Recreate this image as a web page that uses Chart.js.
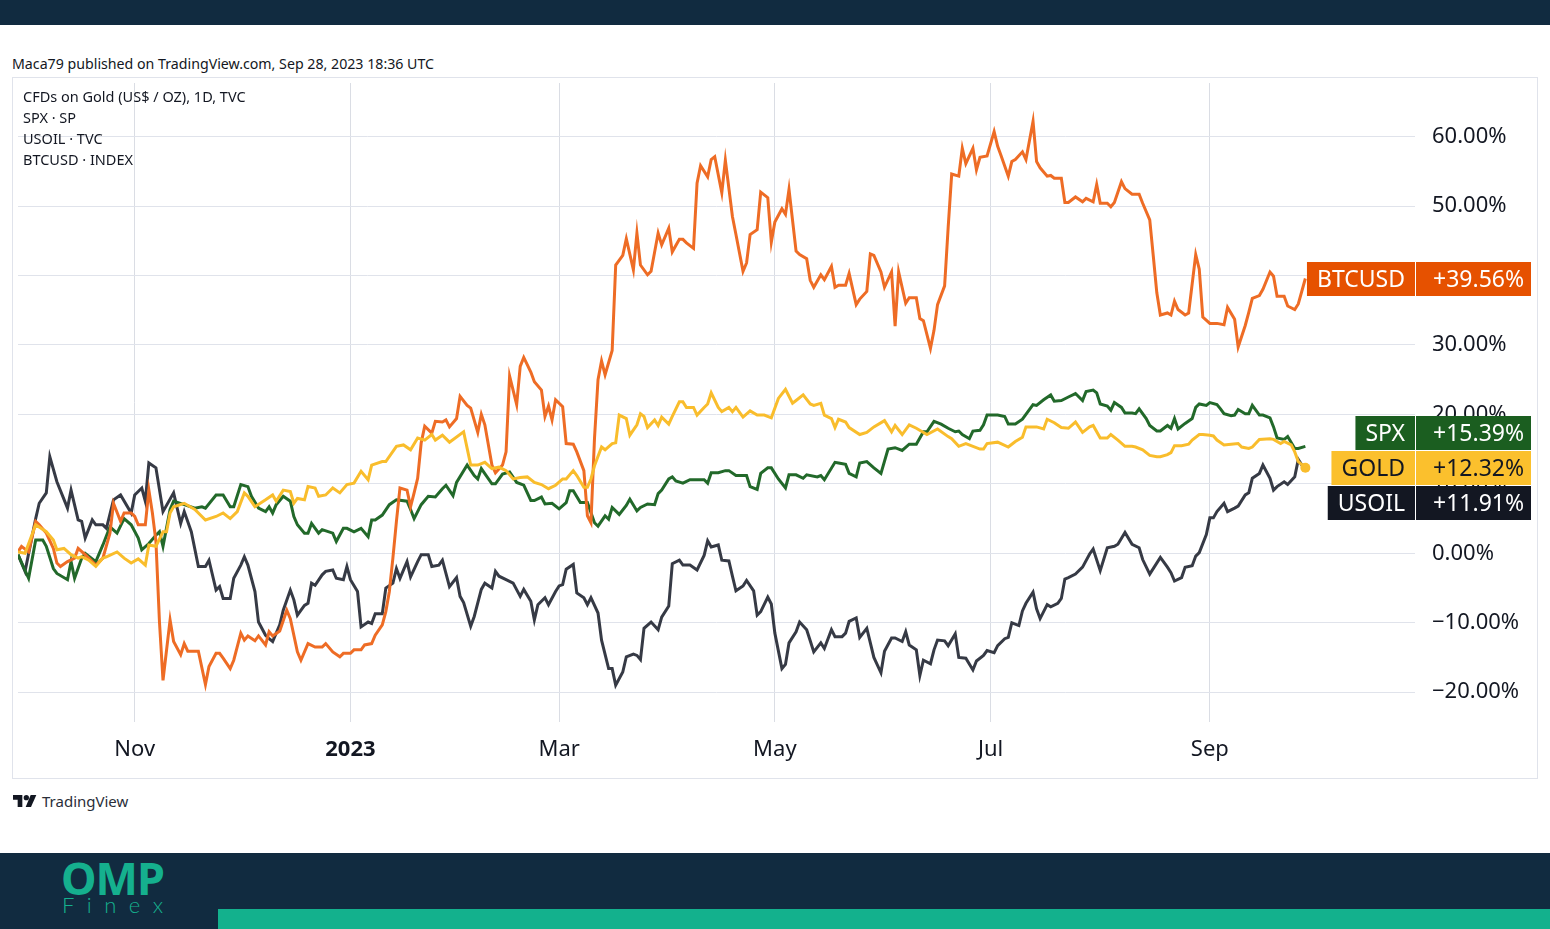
<!DOCTYPE html>
<html>
<head>
<meta charset="utf-8">
<title>Gold vs SPX vs USOIL vs BTCUSD – TradingView compare</title>
<script src="https://cdn.jsdelivr.net/npm/chart.js@4.4.0/dist/chart.umd.min.js"></script>
<style>
  html, body { margin: 0; padding: 0; background: #fff; }
  body {
    width: 1550px; height: 929px; position: relative; overflow: hidden;
    font-family: "Noto Sans", "DejaVu Sans", sans-serif; color: #131722;
  }
  .topbar   { position: absolute; left: 0; top: 0; width: 1550px; height: 25px; background: #112b40; }
  .published{ position: absolute; left: 12px; top: 54px; font-size: 14.2px; line-height: 20px; white-space: nowrap; }
  .frame    { position: absolute; left: 12px; top: 77px; width: 1524px; height: 700px; border: 1px solid #e0e3eb; }
  #wrap     { position: absolute; left: 13px; top: 78px; width: 1524px; height: 700px; }
  .legend   { position: absolute; left: 23px; top: 86px; font-size: 14.5px; line-height: 21px; white-space: nowrap; }
  .tv       { position: absolute; left: 13px; top: 792px; height: 18px; display: flex; align-items: center; gap: 5px;
              font-size: 15px; color: #2a2e39; }
  .footer   { position: absolute; left: 0; top: 853px; width: 1550px; height: 76px; background: #112b40; }
  .omp      { position: absolute; left: 61px; top: 855px; font-size: 45px; line-height: 45px; font-weight: 700;
              color: #15b08e; letter-spacing: -1px; }
  .finex    { position: absolute; left: 62px; top: 894px; font-family: Lato, "Noto Sans", sans-serif; font-size: 22px;
              line-height: 22px; font-weight: 300; color: #15b08e; letter-spacing: 12.5px; }
  .tealbar  { position: absolute; left: 218px; top: 909px; width: 1332px; height: 20px; background: #13b18d; }
</style>
</head>
<body>
<div class="topbar"></div>
<div class="published">Maca79 published on TradingView.com, Sep 28, 2023 18:36 UTC</div>
<div class="frame"></div>
<div id="wrap"><canvas id="cmp" width="1524" height="700"></canvas></div>
<div class="legend">
  <div>CFDs on Gold (US$ / OZ), 1D, TVC</div>
  <div>SPX · SP</div>
  <div>USOIL · TVC</div>
  <div>BTCUSD · INDEX</div>
</div>
<div class="tv">
  <svg width="24" height="12" viewBox="0 0 36 18"><path d="M14 18H7V7H0V0h14z" fill="#131722"/><circle cx="20" cy="4" r="4" fill="#131722"/><path d="M27 18h-8L26.5 0h8.5z" fill="#131722"/></svg>
  <span>TradingView</span>
</div>
<div class="footer"></div>
<div class="omp">OMP</div>
<div class="finex">Finex</div>
<div class="tealbar"></div>

<script>
'use strict';

/* ── Data: [day since 29 Sep 2022, % change] ────────────────────────────── */
const gold = [
  [0, 0.2], [2, 0.0], [5, 4.1], [8, 3.1], [10, 1.9], [11, 0.5], [13, 0.7], [15, -0.2], [17, -0.7], [18, -0.5],
  [20, -1.0], [22, -1.9], [24, -0.7], [25, -0.5], [28, 0.2], [30, -0.7], [32, -1.4], [34, -0.8], [36, -1.7], [37, 1.2],
  [39, 1.0], [41, 3.1], [42, 3.1], [43, 5.8], [44, 6.7], [47, 7.2], [50, 6.3], [53, 4.8], [56, 5.3], [58, 5.8],
  [60, 5.0], [62, 6.0], [64, 8.7], [65, 8.2], [67, 6.7], [70, 7.7], [72, 8.4], [73, 7.5], [75, 9.1], [77, 8.9],
  [78, 7.2], [79, 7.9], [81, 7.7], [82, 9.6], [84, 9.4], [85, 8.2], [87, 8.4], [89, 9.4], [91, 8.7], [93, 9.9],
  [95, 10.1], [97, 11.8], [99, 10.6], [100, 12.7], [103, 13.2], [104, 13.2], [107, 15.4], [109, 15.6], [111, 14.9], [113, 16.6],
  [115, 16.3], [117, 17.1], [118, 16.3], [120, 17.0], [122, 16.0], [126, 17.5], [127, 15.1], [128, 12.7], [130, 12.7], [132, 13.1],
  [134, 12.2], [136, 12.4], [138, 11.9], [140, 10.7], [142, 10.9], [144, 11.0], [146, 10.2], [148, 9.9], [150, 9.3], [152, 9.8],
  [154, 10.7], [155, 10.7], [157, 11.9], [158, 11.2], [160, 9.5], [161, 9.5], [162, 10.7], [163, 12.6], [165, 15.3], [166, 14.9],
  [168, 15.8], [169, 15.9], [170, 19.9], [172, 19.4], [173, 17.0], [175, 18.5], [176, 20.1], [177, 19.7], [178, 18.1], [180, 19.2],
  [181, 18.4], [182, 19.6], [184, 18.6], [185, 19.7], [187, 21.8], [188, 21.8], [189, 21.0], [191, 21.0], [192, 19.9], [194, 21.0],
  [195, 21.5], [196, 23.1], [198, 21.0], [199, 20.4], [201, 21.0], [202, 20.4], [203, 21.0], [205, 19.6], [207, 20.5], [209, 19.9],
  [211, 19.9], [213, 19.5], [215, 22.3], [217, 23.6], [219, 21.6], [220, 22.0], [222, 22.8], [224, 21.5], [225, 21.3], [227, 21.6],
  [228, 19.9], [230, 19.4], [231, 18.1], [232, 19.3], [234, 18.9], [235, 18.1], [238, 17.1], [240, 17.4], [242, 18.2], [245, 19.1],
  [247, 17.5], [248, 18.4], [250, 17.1], [252, 18.5], [254, 18.0], [257, 17.1], [260, 17.9], [263, 16.8], [264, 16.5], [266, 15.4],
  [268, 15.8], [272, 15.0], [273, 15.0], [274, 15.8], [277, 16.0], [280, 15.3], [282, 16.1], [284, 16.7], [285, 18.2], [288, 18.2],
  [290, 17.9], [291, 19.3], [293, 18.8], [295, 18.1], [297, 18.0], [299, 18.9], [301, 17.4], [303, 18.2], [304, 18.4], [306, 16.6],
  [308, 16.6], [309, 17.1], [311, 16.3], [313, 15.4], [315, 15.4], [316, 15.3], [318, 14.9], [320, 14.1], [322, 13.9], [323, 13.9],
  [325, 14.2], [326, 14.5], [327, 15.5], [329, 15.5], [331, 15.7], [332, 16.3], [334, 17.1], [335, 17.1], [337, 17.0], [338, 16.9],
  [339, 16.3], [341, 15.6], [343, 15.7], [345, 15.8], [346, 15.3], [348, 15.1], [349, 15.3], [351, 16.4], [354, 16.5], [355, 16.4],
  [357, 15.8], [358, 16.1], [360, 15.6], [361, 14.6], [362, 13.2], [364, 12.32]
];

const spx = [
  [0, -0.2], [3, -3.6], [5, 1.9], [7, 1.9], [8, 1.0], [10, -2.2], [11, -2.9], [14, -3.8], [15, -1.2], [16, -3.6],
  [18, -0.7], [19, 0.0], [22, -1.2], [24, 1.2], [26, 3.8], [28, 2.9], [30, 5.0], [32, 4.1], [34, 2.2], [35, 0.5],
  [37, 1.4], [39, 2.6], [40, 3.1], [41, 1.0], [43, 6.3], [44, 7.5], [47, 7.0], [50, 6.5], [52, 6.7], [53, 6.5],
  [56, 8.4], [58, 8.4], [60, 6.7], [61, 6.7], [63, 9.9], [65, 9.6], [66, 8.2], [68, 6.5], [70, 6.0], [71, 6.7],
  [72, 5.8], [73, 7.0], [75, 8.2], [77, 7.5], [78, 5.3], [79, 4.1], [81, 2.9], [82, 2.9], [83, 4.3], [85, 2.9],
  [86, 3.4], [89, 2.9], [90, 1.7], [92, 3.6], [93, 3.6], [95, 3.1], [97, 3.6], [99, 2.4], [100, 4.8], [101, 4.8],
  [103, 5.5], [105, 7.0], [107, 7.7], [110, 7.5], [111, 6.3], [112, 5.0], [114, 7.0], [116, 8.2], [118, 8.1], [120, 9.3],
  [121, 9.8], [123, 8.3], [124, 10.2], [127, 12.7], [129, 11.2], [130, 10.7], [131, 12.2], [134, 10.0], [135, 10.0], [137, 11.4],
  [139, 11.7], [141, 10.2], [143, 9.8], [145, 7.6], [146, 7.6], [148, 8.1], [149, 7.1], [151, 7.2], [153, 6.4], [155, 7.3],
  [156, 9.0], [157, 9.0], [159, 7.3], [161, 7.3], [163, 4.4], [164, 3.9], [166, 5.4], [167, 4.9], [168, 6.6], [170, 5.6],
  [172, 6.9], [173, 7.8], [175, 6.1], [176, 6.6], [178, 7.1], [180, 7.0], [181, 8.6], [182, 9.1], [184, 10.7], [185, 11.0],
  [186, 10.4], [188, 10.1], [190, 10.6], [194, 10.6], [195, 10.1], [196, 11.6], [198, 11.6], [200, 11.9], [201, 11.9], [203, 11.2],
  [206, 11.2], [207, 9.6], [209, 9.2], [210, 11.5], [212, 12.3], [213, 12.3], [215, 10.7], [217, 9.4], [218, 11.3], [220, 11.3],
  [222, 10.8], [223, 11.3], [226, 11.0], [227, 11.2], [228, 10.6], [231, 13.1], [232, 13.0], [234, 12.8], [235, 11.5], [237, 11.0],
  [238, 13.0], [240, 13.2], [242, 12.3], [244, 11.5], [246, 15.0], [248, 15.2], [250, 14.8], [252, 15.7], [254, 15.7], [256, 17.5],
  [257, 17.5], [259, 19.0], [261, 18.6], [263, 18.0], [265, 17.5], [266, 17.6], [267, 17.1], [269, 16.5], [270, 17.6], [272, 17.7],
  [273, 18.5], [274, 19.9], [277, 19.9], [279, 19.7], [280, 18.6], [282, 18.6], [284, 19.3], [287, 21.4], [288, 21.3], [290, 22.1],
  [292, 22.8], [293, 21.9], [295, 22.0], [297, 22.5], [299, 23.0], [301, 22.0], [302, 23.3], [304, 23.5], [305, 23.1], [306, 21.5],
  [308, 21.2], [309, 20.6], [310, 21.7], [312, 21.0], [313, 20.2], [315, 20.2], [316, 20.1], [317, 20.8], [319, 19.4], [320, 18.4],
  [322, 17.6], [323, 17.6], [325, 18.4], [326, 18.0], [327, 19.4], [328, 17.9], [330, 18.7], [332, 19.4], [333, 21.0], [334, 21.5],
  [336, 21.3], [337, 21.7], [339, 21.4], [340, 20.8], [341, 20.1], [343, 19.8], [344, 19.9], [345, 20.7], [347, 20.1], [348, 20.1],
  [349, 21.3], [351, 19.9], [352, 19.9], [354, 19.5], [355, 18.2], [356, 16.6], [358, 16.4], [359, 16.8], [361, 15.1], [362, 15.1],
  [364, 15.39]
];

const usoil = [
  [0, -0.2], [2, -2.6], [5, 5.0], [6, 7.2], [8, 8.7], [9, 13.9], [11, 10.3], [14, 6.5], [15, 9.1], [17, 4.8],
  [18, 4.6], [19, 2.2], [21, 4.8], [22, 4.1], [24, 4.1], [25, 3.6], [27, 7.7], [29, 8.4], [32, 5.8], [33, 8.4],
  [35, 9.4], [36, 7.5], [37, 13.0], [39, 12.3], [41, 6.0], [44, 8.7], [46, 4.3], [47, 6.0], [49, 3.1], [51, -1.9],
  [53, -1.9], [54, -1.0], [56, -5.3], [57, -4.8], [58, -6.5], [60, -6.5], [61, -3.6], [63, -1.7], [64, -0.5], [65, -1.7],
  [67, -5.5], [68, -9.9], [70, -11.8], [71, -12.3], [72, -12.7], [74, -10.3], [75, -8.2], [77, -5.3], [78, -6.7], [79, -8.9],
  [81, -7.5], [82, -7.2], [83, -4.3], [84, -4.6], [86, -3.1], [87, -2.6], [89, -2.4], [90, -3.6], [92, -3.8], [93, -1.9],
  [94, -3.8], [96, -5.5], [97, -10.6], [99, -9.9], [100, -10.1], [101, -8.7], [103, -8.7], [104, -5.0], [106, -4.3], [107, -2.2],
  [108, -3.6], [110, -1.2], [111, -3.4], [113, -1.2], [114, -0.2], [116, -0.2], [117, -1.9], [119, -1.7], [120, -1.0], [121, -2.9],
  [122, -4.8], [124, -3.5], [125, -6.2], [126, -7.1], [128, -10.5], [129, -9.1], [131, -5.2], [132, -4.3], [134, -5.0], [135, -2.6],
  [136, -3.3], [138, -3.8], [140, -4.3], [142, -6.2], [143, -5.2], [145, -6.9], [146, -9.6], [147, -7.4], [149, -6.4], [150, -7.4],
  [152, -5.5], [153, -4.7], [154, -4.5], [155, -2.3], [157, -1.6], [158, -5.7], [160, -6.4], [161, -7.4], [162, -6.4], [164, -8.6],
  [165, -12.5], [167, -16.6], [168, -16.6], [169, -19.0], [171, -17.1], [172, -14.9], [174, -14.5], [175, -14.7], [176, -15.3], [177, -10.8],
  [179, -9.9], [181, -11.0], [182, -9.2], [184, -7.6], [185, -1.5], [187, -1.0], [188, -1.7], [190, -1.7], [192, -2.4], [194, -0.3],
  [195, 1.8], [196, 0.9], [198, 1.2], [199, -1.0], [201, -1.1], [202, -3.3], [203, -5.4], [205, -4.7], [206, -3.9], [208, -5.4],
  [209, -8.9], [210, -8.4], [212, -6.3], [213, -7.3], [214, -11.5], [216, -16.6], [217, -16.0], [218, -12.9], [220, -11.3], [221, -9.9],
  [223, -11.0], [224, -12.6], [225, -14.2], [227, -12.9], [228, -13.7], [230, -11.0], [231, -12.0], [233, -12.0], [234, -11.5], [235, -9.8],
  [237, -9.3], [238, -12.1], [240, -10.8], [242, -15.0], [244, -17.2], [245, -14.1], [247, -12.2], [248, -12.2], [250, -12.7], [251, -11.3],
  [252, -13.2], [254, -13.9], [255, -17.6], [256, -15.4], [258, -15.9], [259, -13.9], [260, -12.5], [262, -12.6], [263, -13.3], [265, -11.6],
  [266, -15.0], [268, -15.1], [270, -16.8], [271, -15.5], [273, -14.7], [274, -14.0], [276, -14.3], [277, -13.3], [279, -12.3], [280, -12.1],
  [281, -10.0], [283, -10.4], [284, -8.3], [285, -7.2], [287, -5.6], [288, -8.0], [289, -9.4], [291, -7.4], [292, -7.7], [294, -7.2],
  [295, -6.5], [296, -3.7], [297, -3.5], [299, -3.0], [301, -2.0], [303, -0.1], [304, 0.6], [306, -2.5], [308, 0.8], [310, 1.0],
  [311, 1.3], [313, 3.0], [315, 1.3], [317, 0.8], [318, -0.9], [320, -3.0], [323, -0.6], [325, -2.0], [326, -2.8], [327, -4.0],
  [329, -3.5], [330, -2.0], [332, -1.8], [333, -0.4], [334, 0.1], [336, 2.7], [337, 5.1], [338, 5.1], [339, 6.0], [341, 7.2],
  [342, 6.0], [344, 6.5], [345, 6.8], [347, 8.4], [348, 8.7], [349, 10.8], [351, 11.5], [352, 12.7], [354, 10.8], [355, 9.1],
  [356, 9.6], [358, 10.3], [359, 9.9], [361, 11.0], [362, 13.5], [364, 11.91]
];

const btc = [
  [0, 0.2], [1, 1.0], [3, 0.2], [5, 4.6], [6, 4.1], [8, 2.9], [10, 0.7], [11, -1.4], [12, -1.9], [14, -1.2],
  [16, -0.7], [17, 0.7], [19, -0.2], [20, -0.7], [22, -1.7], [24, -0.7], [26, 2.9], [27, 7.2], [29, 4.6], [30, 5.8],
  [32, 5.8], [33, 5.3], [34, 4.1], [36, 4.1], [37, 9.1], [38, 5.8], [39, 1.7], [40, -9.9], [41, -18.3], [43, -9.6],
  [44, -12.7], [46, -14.6], [47, -13.0], [48, -14.1], [50, -14.1], [51, -14.1], [53, -18.9], [54, -16.3], [56, -14.4], [57, -14.4],
  [58, -15.1], [60, -16.6], [61, -15.4], [63, -11.5], [64, -12.5], [65, -11.9], [67, -12.6], [68, -11.9], [70, -13.2], [71, -11.3],
  [72, -11.9], [74, -11.2], [76, -8.2], [77, -9.4], [79, -14.2], [80, -15.4], [82, -13.0], [84, -13.5], [86, -13.5], [87, -13.0],
  [89, -14.2], [91, -14.9], [92, -14.4], [94, -14.4], [95, -13.9], [97, -13.9], [98, -13.2], [100, -13.0], [101, -11.8], [103, -10.3],
  [104, -8.4], [105, -5.5], [106, -0.7], [107, 4.6], [108, 9.4], [110, 9.1], [111, 6.7], [112, 8.7], [113, 10.8], [114, 15.9],
  [115, 18.3], [117, 17.3], [118, 19.0], [120, 18.9], [121, 19.2], [122, 18.2], [124, 19.4], [125, 22.6], [127, 21.3], [128, 20.9],
  [130, 17.4], [131, 20.0], [132, 18.5], [134, 12.7], [135, 11.6], [137, 12.7], [138, 14.6], [139, 25.5], [141, 21.4], [142, 26.9],
  [143, 28.2], [145, 26.1], [146, 24.7], [148, 23.5], [149, 19.7], [150, 21.2], [151, 19.2], [152, 22.1], [154, 21.1], [155, 15.8],
  [157, 15.7], [158, 14.6], [160, 11.9], [161, 5.4], [162, 4.4], [163, 16.5], [164, 25.0], [165, 27.7], [166, 25.7], [168, 29.2],
  [169, 41.5], [171, 42.9], [172, 45.3], [174, 40.8], [175, 46.1], [176, 41.5], [178, 40.1], [179, 40.6], [181, 46.1], [182, 44.4],
  [184, 46.8], [185, 43.4], [187, 45.2], [188, 45.2], [189, 44.7], [191, 43.9], [192, 53.3], [193, 55.8], [195, 54.2], [196, 56.7],
  [197, 57.1], [199, 51.9], [200, 56.6], [202, 48.5], [203, 45.9], [205, 40.6], [206, 41.8], [207, 45.9], [209, 46.6], [210, 52.0],
  [212, 51.2], [213, 44.8], [214, 47.7], [216, 49.6], [217, 48.8], [218, 52.4], [220, 43.5], [221, 43.0], [223, 42.4], [224, 39.3],
  [225, 38.3], [227, 40.1], [228, 39.4], [230, 41.3], [231, 38.3], [232, 38.6], [234, 38.6], [235, 40.3], [237, 35.8], [238, 36.6],
  [240, 37.7], [241, 43.1], [242, 42.9], [244, 40.5], [245, 38.3], [247, 40.5], [248, 32.7], [249, 40.5], [251, 36.0], [252, 36.8],
  [254, 36.8], [255, 33.8], [256, 33.5], [258, 29.5], [259, 32.1], [260, 35.8], [262, 38.5], [263, 46.9], [264, 54.6], [266, 54.3],
  [267, 58.3], [268, 56.1], [270, 58.3], [271, 55.2], [272, 57.0], [274, 57.2], [276, 60.7], [277, 58.6], [278, 57.2], [280, 54.3],
  [281, 56.4], [282, 56.7], [284, 57.8], [285, 56.7], [287, 62.2], [288, 56.4], [289, 55.5], [291, 54.3], [292, 54.4], [293, 54.0],
  [295, 54.0], [296, 50.5], [297, 50.5], [299, 51.3], [301, 50.6], [302, 51.1], [304, 50.6], [305, 53.1], [306, 50.4], [308, 50.4],
  [309, 49.9], [310, 50.5], [312, 53.5], [313, 52.5], [315, 51.7], [316, 51.7], [317, 51.7], [318, 50.4], [320, 48.0], [321, 42.8],
  [322, 37.5], [323, 34.3], [325, 34.6], [326, 34.3], [327, 36.3], [328, 35.1], [330, 34.3], [331, 34.6], [333, 43.0], [334, 40.9],
  [335, 34.0], [337, 33.1], [339, 33.1], [341, 32.9], [342, 35.4], [344, 33.7], [345, 29.7], [347, 32.8], [348, 34.7], [349, 36.7],
  [351, 37.1], [352, 38.0], [354, 40.5], [355, 39.9], [356, 37.0], [358, 37.0], [359, 35.6], [361, 35.1], [362, 35.9], [364, 39.56]
];

/* ── Axis setup ───────────────────────────────────────────────────────────── */
const START_UTC  = Date.UTC(2022, 8, 29);        // day 0
const DAY_MS     = 86400000;
const X_MAX_DAY  = 395;                          // empty room to the right, as on TV
const Y_MIN      = -24.29;
const Y_MAX      = 67.71;
const yTicks     = [-20, -10, 0, 10, 20, 30, 40, 50, 60];
const monthNames = ['Jan', 'Feb', 'Mar', 'Apr', 'May', 'Jun', 'Jul', 'Aug', 'Sep', 'Oct', 'Nov', 'Dec'];

// every other month start (Jan, Mar, May, ...) inside the visible range
function monthTicks() {
  const out = [];
  for (let y = 2022; y <= 2023; y++) {
    for (let m = 0; m < 12; m += 2) {
      const d = (Date.UTC(y, m, 1) - START_UTC) / DAY_MS;
      if (d > 0 && d < X_MAX_DAY) out.push(d);
    }
  }
  return out;
}
function dayDate(d) { return new Date(START_UTC + d * DAY_MS); }

const FONT = '"Noto Sans", "DejaVu Sans", sans-serif';
const INK  = '#131722';

const series = [
  { name: 'GOLD',   pts: gold,  line: '#f9bd2c', box: '#fbc02d', text: '#131722', main: true },
  { name: 'BTCUSD', pts: btc,   line: '#ee6c25', box: '#e65100', text: '#ffffff' },
  { name: 'SPX',    pts: spx,   line: '#22692a', box: '#1b5e20', text: '#ffffff' },
  { name: 'USOIL',  pts: usoil, line: '#363a45', box: '#131722', text: '#ffffff' }
];

/* ── Last-value badges on the price scale ──────────────────────────────── */
const lastBadges = {
  id: 'lastBadges',
  afterDraw(chart) {
    const { ctx, chartArea, scales: { y } } = chart;
    const boxH = 34, step = 35, right = chart.width - 6;

    const items = chart.data.datasets.map(ds => {
      const last = ds.data[ds.data.length - 1].y;
      return { ds, last, want: y.getPixelForValue(last) };
    });

    // keep the main symbol on its value, push the others out of its way
    const main = items.find(it => it.ds.main);
    main.cy = main.want;
    let prev = main.cy;
    items.filter(it => it !== main && it.want <= main.want)
      .sort((a, b) => b.want - a.want)
      .forEach(it => { it.cy = Math.min(it.want, prev - step); prev = it.cy; });
    prev = main.cy;
    items.filter(it => it !== main && it.want > main.want)
      .sort((a, b) => a.want - b.want)
      .forEach(it => { it.cy = Math.max(it.want, prev + step); prev = it.cy; });

    ctx.save();
    ctx.font = `23px ${FONT}`;
    ctx.textBaseline = 'middle';
    items.forEach(it => {
      const top = Math.round(it.cy - boxH / 2);
      const nameW = ctx.measureText(it.ds.label).width + 20;
      // name part, left of the price scale
      ctx.fillStyle = it.ds.boxColor;
      ctx.fillRect(chartArea.right - nameW, top, nameW, boxH);
      // value part, on the price scale
      ctx.fillRect(chartArea.right + 1, top, right - chartArea.right - 1, boxH);
      ctx.fillStyle = it.ds.textColor;
      ctx.textAlign = 'center';
      ctx.fillText(it.ds.label, chartArea.right - nameW / 2, top + boxH / 2 + 1);
      ctx.textAlign = 'left';
      ctx.fillText('+' + it.last.toFixed(2) + '%', chartArea.right + 18, top + boxH / 2 + 1);
    });
    ctx.restore();
  }
};

/* ── Chart ────────────────────────────────────────────────────────────────── */
new Chart(document.getElementById('cmp'), {
  type: 'line',
  data: {
    datasets: series.map(s => ({
      label: s.name,
      data: s.pts.map(([d, v]) => ({ x: d, y: v })),
      borderColor: s.line,
      borderWidth: 3,
      boxColor: s.box,
      textColor: s.text,
      main: !!s.main,
      tension: 0,
      pointRadius: ctx => (s.main && ctx.dataIndex === s.pts.length - 1) ? 5 : 0,
      pointBackgroundColor: s.line,
      pointBorderWidth: 0
    }))
  },
  options: {
    responsive: false,
    animation: false,
    devicePixelRatio: 1,
    layout: { padding: 0 },
    plugins: { legend: { display: false }, tooltip: { enabled: false } },
    scales: {
      x: {
        type: 'linear',
        min: 0,
        max: X_MAX_DAY,
        afterBuildTicks: scale => { scale.ticks = monthTicks().map(v => ({ value: v })); },
        afterFit: scale => {
          scale.height = 56;
          scale.paddingLeft = 0;
          scale.paddingRight = 0;
        },
        grid: { color: '#dadde4', drawTicks: false },
        border: { display: false },
        ticks: {
          autoSkip: false,
          maxRotation: 0,
          padding: 15,
          color: INK,
          font: ctx => {
            const isYear = ctx.tick && dayDate(ctx.tick.value).getUTCMonth() === 0;
            return { family: FONT, size: 22, weight: isYear ? 'bold' : 'normal' };
          },
          callback: v => {
            const dt = dayDate(v);
            return dt.getUTCMonth() === 0 ? String(dt.getUTCFullYear()) : monthNames[dt.getUTCMonth()];
          }
        }
      },
      y: {
        position: 'right',
        min: Y_MIN,
        max: Y_MAX,
        afterBuildTicks: scale => { scale.ticks = yTicks.map(v => ({ value: v })); },
        afterFit: scale => {
          scale.width = 122;
          // the tick padding would otherwise push the plot down from the frame top
          scale.paddingTop = 0;
          scale.paddingBottom = 0;
        },
        grid: { color: '#e0e3eb', drawTicks: false },
        border: { display: false },
        ticks: {
          padding: 17,
          color: INK,
          font: { family: FONT, size: 22 },
          callback: v => (v < 0 ? '\u2212' : '') + Math.abs(v).toFixed(2) + '%'
        }
      }
    }
  },
  plugins: [lastBadges]
});
</script>
</body>
</html>
